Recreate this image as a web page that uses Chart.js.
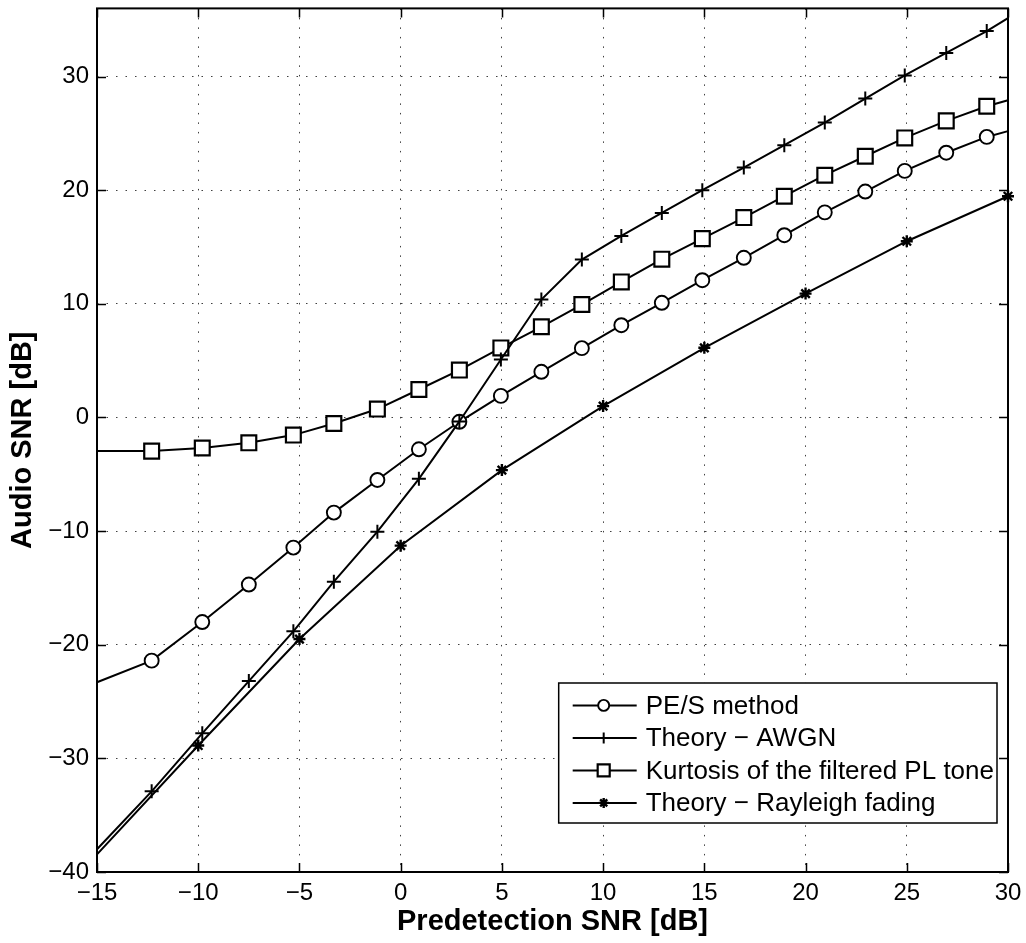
<!DOCTYPE html>
<html>
<head>
<meta charset="utf-8">
<script src="https://cdn.jsdelivr.net/npm/chart.js@4.4.1/dist/chart.umd.min.js"></script>
<style>
  html, body { margin: 0; padding: 0; background: #fff; }
  #wrap { width: 1026px; height: 943px; position: relative; }
</style>
</head>
<body>
<div id="wrap"><canvas id="c"></canvas></div>
<script>
// ---- data ----
const xTicks = [-15, -10, -5, 0, 5, 10, 15, 20, 25, 30];
const yTicks = [-40, -30, -20, -10, 0, 10, 20, 30];
const xRange = [-15, 30];
const yRange = [-40, 36];

const snrX = [-12.3, -9.8, -7.5, -5.3, -3.3, -1.15, 0.9, 2.9, 4.95, 6.95, 8.95, 10.9, 12.9, 14.9, 16.95, 18.95, 20.95, 22.95, 24.9, 26.95, 28.95];
const pesY = [-21.4, -18.0, -14.7, -11.45, -8.37, -5.5, -2.8, -0.38, 1.9, 4.02, 6.1, 8.12, 10.09, 12.08, 14.05, 16.04, 18.05, 19.88, 21.7, 23.3, 24.69];
const awgnY = [-32.9, -27.8, -23.2, -18.82, -14.45, -10.05, -5.4, -0.35, 5.1, 10.38, 13.9, 15.98, 18.0, 20.0, 21.99, 23.96, 25.95, 28.06, 30.1, 32.08, 34.01];
const kurtY = [-2.96, -2.69, -2.23, -1.55, -0.53, 0.74, 2.46, 4.17, 6.12, 7.98, 9.94, 11.93, 13.93, 15.74, 17.59, 19.47, 21.32, 22.99, 24.6, 26.1, 27.39];
const rayX = [-10, -5, 0, 5, 10, 15, 20, 25, 30];
const rayY = [-28.87, -19.5, -11.28, -4.63, 1.0, 6.13, 10.9, 15.51, 19.47];

// values where the curves meet the plot edges (x = -15 and x = 30), no marker there
const pesEdgeY = [-23.3, 25.2];
const awgnEdgeY = [-38.0, 35.15];
const kurtEdgeY = [-2.96, 27.92];
const rayEdgeY = [-38.45];

const labels = ['PE/S method', 'Theory \u2212 AWGN', 'Kurtosis of the filtered PL tone', 'Theory \u2212 Rayleigh fading'];

// ---- build series ----
function build(xs, ys, edgeLeft, edgeRight) {
  const pts = [];
  if (edgeLeft !== undefined) pts.push({x: xRange[0], y: edgeLeft, edge: true});
  xs.forEach((x, i) => pts.push({x: x, y: ys[i]}));
  if (edgeRight !== undefined) pts.push({x: xRange[1], y: edgeRight, edge: true});
  return pts;
}

const styles = [
  {pointStyle: 'circle', r: 7,    lr: 5.5, bw: 1.9, order: 3},
  {pointStyle: 'cross',  r: 7,    lr: 5.5, bw: 2,   order: 1},
  {pointStyle: 'rect',   r: 10.5, lr: 8.5, bw: 2.2, order: 2},
  {pointStyle: 'star',   r: 6,    lr: 5,   bw: 2.4, order: 0}
];

const seriesData = [
  build(snrX, pesY, pesEdgeY[0], pesEdgeY[1]),
  build(snrX, awgnY, awgnEdgeY[0], awgnEdgeY[1]),
  build(snrX, kurtY, kurtEdgeY[0], kurtEdgeY[1]),
  build(rayX, rayY, rayEdgeY[0], undefined)
];

const datasets = seriesData.map((d, i) => ({
  label: labels[i],
  data: d,
  borderColor: '#000',
  borderWidth: 2,
  pointStyle: styles[i].pointStyle,
  pointRadius: (ctx) => (ctx.raw && ctx.raw.edge) ? 0 : styles[i].r,
  pointBorderWidth: styles[i].bw,
  pointBorderColor: '#000',
  pointBackgroundColor: '#fff',
  tension: 0,
  fill: false,
  clip: false,
  order: styles[i].order
}));

function fmt(v) { return v < 0 ? '\u2212' + Math.abs(v) : String(v); }

function drawMarker(ctx, style, x, y, r) {
  ctx.beginPath();
  if (style === 'circle') {
    ctx.arc(x, y, r, 0, Math.PI * 2);
    ctx.fill(); ctx.stroke();
  } else if (style === 'rect') {
    const s = Math.SQRT1_2 * r;
    ctx.rect(x - s, y - s, 2 * s, 2 * s);
    ctx.fill(); ctx.stroke();
  } else if (style === 'cross') {
    ctx.moveTo(x - r, y); ctx.lineTo(x + r, y);
    ctx.moveTo(x, y - r); ctx.lineTo(x, y + r);
    ctx.stroke();
  } else if (style === 'star') {
    const d = r * Math.SQRT1_2;
    ctx.moveTo(x - r, y); ctx.lineTo(x + r, y);
    ctx.moveTo(x, y - r); ctx.lineTo(x, y + r);
    ctx.moveTo(x - d, y - d); ctx.lineTo(x + d, y + d);
    ctx.moveTo(x - d, y + d); ctx.lineTo(x + d, y - d);
    ctx.stroke();
  }
}

const framePlugin = {
  id: 'frame',
  beforeDraw(chart) {
    const c = chart.ctx;
    c.save(); c.fillStyle = '#fff'; c.fillRect(0, 0, chart.width, chart.height); c.restore();
  },
  afterDatasetsDraw(chart) {
    const c = chart.ctx, a = chart.chartArea;
    const xs = chart.scales.x, ys = chart.scales.y;
    c.save();
    c.strokeStyle = '#000';
    c.lineWidth = 1.5;
    const tl = 9;
    c.beginPath();
    xs.ticks.forEach(t => {
      const px = Math.round(xs.getPixelForValue(t.value)) + 0.5;
      c.moveTo(px, a.bottom); c.lineTo(px, a.bottom - tl);
      c.moveTo(px, a.top); c.lineTo(px, a.top + tl);
    });
    ys.ticks.forEach(t => {
      const py = Math.round(ys.getPixelForValue(t.value)) + 0.5;
      c.moveTo(a.left, py); c.lineTo(a.left + tl, py);
      c.moveTo(a.right, py); c.lineTo(a.right - tl, py);
    });
    c.stroke();
    c.lineWidth = 2;
    c.strokeRect(a.left, a.top, a.right - a.left, a.bottom - a.top);

    // legend box
    c.font = '26px "Liberation Sans", Arial, sans-serif';
    let maxW = 0;
    labels.forEach(l => { maxW = Math.max(maxW, c.measureText(l).width); });
    const right = a.right - 11;
    const width = 87 + maxW + 3;
    const left = right - width;
    const rowH = 32.5;
    const bottom = a.bottom - 49;
    const top = bottom - 140;
    c.fillStyle = '#fff';
    c.fillRect(left, top, width, bottom - top);
    c.lineWidth = 1.5;
    c.strokeRect(left, top, width, bottom - top);
    c.textBaseline = 'middle';
    c.textAlign = 'left';
    labels.forEach((l, i) => {
      const cy = top + 22.4 + i * rowH;
      c.strokeStyle = '#000';
      c.lineWidth = 2;
      c.beginPath();
      c.moveTo(left + 14, cy); c.lineTo(left + 78, cy);
      c.stroke();
      c.fillStyle = '#fff';
      c.lineWidth = styles[i].bw;
      drawMarker(c, styles[i].pointStyle, left + 45, cy, styles[i].lr);
      c.fillStyle = '#000';
      c.fillText(l, left + 87, cy + 1);
    });
    c.restore();
  }
};

const gridStyle = { color: 'rgba(0,0,0,0.75)', lineWidth: 1, drawTicks: false };

new Chart(document.getElementById('c'), {
  type: 'line',
  data: { datasets: datasets },
  plugins: [framePlugin],
  options: {
    responsive: true,
    maintainAspectRatio: false,
    animation: false,
    events: [],
    layout: { padding: { left: 0, right: 18, top: 7, bottom: 0 } },
    plugins: { legend: { display: false }, tooltip: { enabled: false } },
    scales: {
      x: {
        type: 'linear',
        min: xRange[0], max: xRange[1],
        afterBuildTicks: (s) => { s.ticks = xTicks.map(v => ({value: v})); },
        afterFit: (s) => { s.height = 71; s.paddingLeft = 0; s.paddingRight = 0; },
        grid: gridStyle,
        border: { display: false, dash: [1.5, 8] },
        ticks: {
          padding: 7,
          color: '#000',
          maxRotation: 0,
          font: { family: '"Liberation Sans", Arial, sans-serif', size: 24 },
          callback: (v) => fmt(v)
        },
        title: {
          display: true,
          text: 'Predetection SNR [dB]',
          color: '#000',
          font: { family: '"Liberation Sans", Arial, sans-serif', size: 29, weight: 'bold' },
          padding: { top: 0, bottom: 4 }
        }
      },
      y: {
        type: 'linear',
        min: yRange[0], max: yRange[1],
        afterBuildTicks: (s) => { s.ticks = yTicks.map(v => ({value: v})); },
        afterFit: (s) => { s.width = 97; s.paddingTop = 0; s.paddingBottom = 0; },
        grid: gridStyle,
        border: { display: false, dash: [1.5, 8] },
        ticks: {
          padding: 8,
          color: '#000',
          font: { family: '"Liberation Sans", Arial, sans-serif', size: 24 },
          callback: (v) => fmt(v)
        },
        title: {
          display: true,
          text: 'Audio SNR [dB]',
          color: '#000',
          font: { family: '"Liberation Sans", Arial, sans-serif', size: 29, weight: 'bold' },
          padding: { top: 6, bottom: 0 }
        }
      }
    }
  }
});
</script>
</body>
</html>
